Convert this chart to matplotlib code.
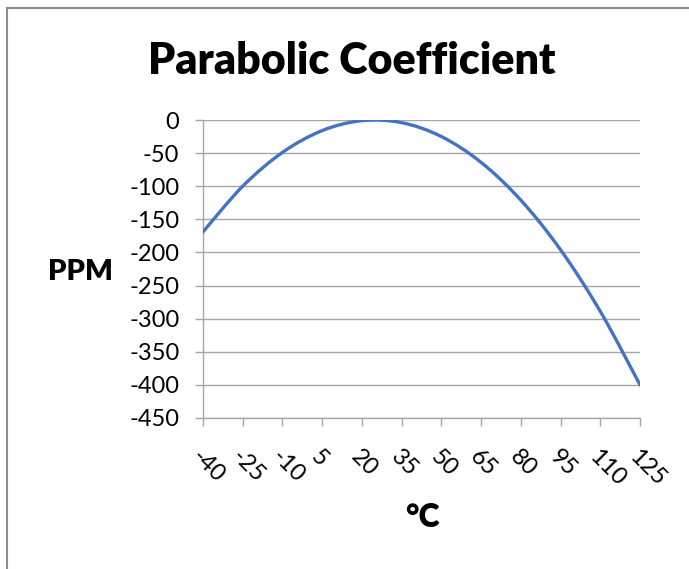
import numpy as np
import matplotlib.pyplot as plt
from matplotlib.path import Path
from matplotlib.patches import PathPatch
from matplotlib.lines import Line2D

plt.rcParams['font.family'] = ['Lato', 'DejaVu Sans']

# data
temps = ['-40', '-25', '-10', '5', '20', '35', '50', '65', '80', '95', '110', '125']
ppm = [-169, -100, -49, -16, -1, -4, -25, -64, -121, -196, -289, -400]
y_ticks = [0, -50, -100, -150, -200, -250, -300, -350, -400, -450]

grey = '#a6a6a6'
blue = '#4472c4'

fig = plt.figure(figsize=(6.89, 5.69), dpi=100)
ax = fig.add_axes([0.2946, 0.2654, 0.6343, 0.5237])

x = np.arange(len(temps))
pts = np.column_stack([x, ppm]).astype(float)

# smoothed line like the spreadsheet one (catmull-rom style bezier)
verts = [pts[0]]
codes = [Path.MOVETO]
n = len(pts)
for i in range(n - 1):
    p0 = pts[max(i - 1, 0)]
    p1 = pts[i]
    p2 = pts[i + 1]
    p3 = pts[min(i + 2, n - 1)]
    c1 = p1 + (p2 - p0) / 6.0
    c2 = p2 - (p3 - p1) / 6.0
    verts += [c1, c2, p2]
    codes += [Path.CURVE4] * 3
ax.add_patch(PathPatch(Path(verts, codes), facecolor='none', edgecolor=blue,
                       lw=2.4, capstyle='round', zorder=3))

ax.set_xlim(0, len(temps) - 1)
ax.set_ylim(-450, 0)
ax.set_xticks(x)
ax.set_xticklabels(temps, rotation=-45, ha='left', va='top', rotation_mode='anchor')
ax.set_yticks(y_ticks)
ax.set_yticklabels([str(v) for v in y_ticks])

ax.yaxis.grid(True, color=grey, lw=1)
ax.set_axisbelow(True)
for s in ['top', 'right']:
    ax.spines[s].set_visible(False)
for s in ['left', 'bottom']:
    ax.spines[s].set_color(grey)
    ax.spines[s].set_linewidth(1)
ax.tick_params(axis='both', colors=grey, length=6, width=1, labelsize=17,
               labelcolor='black')
ax.tick_params(axis='y', pad=11)
ax.tick_params(axis='x', pad=14)

fig.text(0.51, 0.893, 'Parabolic Coefficient', ha='center', va='center',
         fontsize=31, fontweight='heavy')
fig.text(0.117, 0.522, 'PPM', ha='center', va='center', fontsize=21,
         fontweight='heavy')
fig.text(0.613, 0.09, '°C', ha='center', va='center', fontsize=23,
         fontweight='heavy')

# chart frame edges
fig.add_artist(Line2D([0.0102, 0.0102], [0, 0.986], color='#8c8c8c', lw=1.5,
                      transform=fig.transFigure))
fig.add_artist(Line2D([0.0102, 1], [0.986, 0.986], color='#8c8c8c', lw=1.5,
                      transform=fig.transFigure))

fig.savefig('out.png', dpi=100)
